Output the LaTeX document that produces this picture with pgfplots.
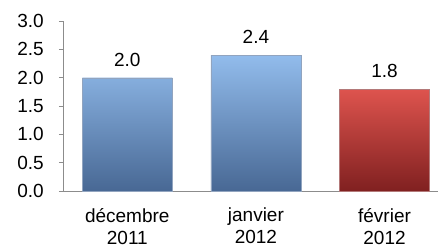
\documentclass[border=0pt]{standalone}
\usepackage{pgfplots}
\pgfplotsset{compat=1.18}
\usepackage{fontspec}
\setmainfont{Liberation Sans}
\definecolor{bluetop}{RGB}{146,188,236}
\definecolor{bluebot}{RGB}{72,104,148}
\definecolor{redtop}{RGB}{222,84,78}
\definecolor{redbot}{RGB}{128,32,32}
\definecolor{axisgray}{RGB}{140,140,140}
\begin{document}
\begin{tikzpicture}
\begin{axis}[
  scale only axis,
  width=375pt, height=170pt,
  xmin=-0.5, xmax=2.416,
  ymin=0, ymax=3,
  axis x line*=bottom, axis y line*=left,
  axis line style={-, axisgray, line width=0.8pt},
  tick style={axisgray, line width=0.8pt},
  tick align=outside,
  major tick length=4pt, minor tick length=4pt,
  ytick={0,0.5,1,1.5,2,2.5,3},
  yticklabel style={/pgf/number format/fixed, /pgf/number format/precision=1, /pgf/number format/fixed zerofill, inner sep=0pt, xshift=-15pt},
  /pgf/number format/assume math mode=true,
  xtick={0,1,2},
  xticklabels={{décembre\\2011},{janvier\\2012},{février\\2012}},
  xticklabel style={align=center, inner sep=0pt, yshift=-13pt},
  xtick style={draw=none},
  minor xtick={0.5,1.5},
  minor tick style={axisgray, line width=0.8pt},
  ticklabel style={font=\fontsize{19}{22}\selectfont},
  ybar, bar width=90pt, bar shift=0pt,
  nodes near coords,
  nodes near coords style={font=\fontsize{19}{22}\selectfont, black, anchor=south, inner sep=0pt, yshift=11pt,
    /pgf/number format/fixed, /pgf/number format/precision=1, /pgf/number format/fixed zerofill, /pgf/number format/assume math mode=true},
  clip=false,
]
\addplot[draw=bluebot!60, line width=0.3pt, top color=bluetop, bottom color=bluebot] coordinates {(0,2.0) (1,2.4)};
\addplot[draw=redbot!60, line width=0.3pt, top color=redtop, bottom color=redbot] coordinates {(2,1.8)};
\end{axis}
\pgfresetboundingbox
\path[use as bounding box] ([xshift=-63pt,yshift=-53pt]current axis.south west) rectangle ([yshift=21pt]current axis.north east);
\end{tikzpicture}
\end{document}
